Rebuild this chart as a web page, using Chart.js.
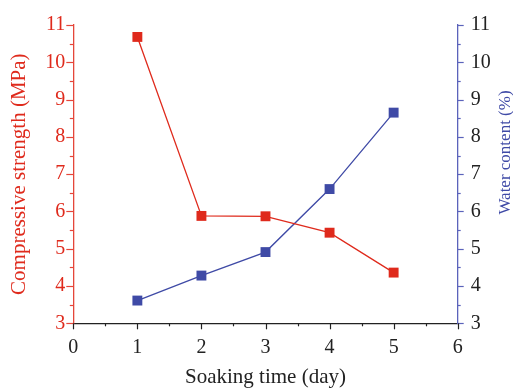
<!DOCTYPE html>
<html>
<head>
<meta charset="utf-8">
<script src="https://cdn.jsdelivr.net/npm/chart.js@4"></script>
<style>
  html, body { margin: 0; padding: 0; background: #ffffff; }
  #wrap { width: 513px; height: 392px; position: relative; }
</style>
</head>
<body>
<div id="wrap"><canvas id="c" width="513" height="392"></canvas></div>
<script>
// ---- data ----
const days = [1, 2, 3, 4, 5];
const strength = [10.68, 5.88, 5.87, 5.43, 4.36];   // Compressive strength (MPa)
const water = [3.61, 4.28, 4.91, 6.60, 8.65];       // Water content (%)
const xTicks = [0, 1, 2, 3, 4, 5, 6];
const yTicks = [3, 4, 5, 6, 7, 8, 9, 10, 11];

const RED = '#df2a1c';
const BLUE = '#3f4aa6';
const RED_AXIS = '#e5463a';
const BLUE_AXIS = '#5b63bb';
const FONT = "'Liberation Serif', 'DejaVu Serif', serif";

// draw major / minor tick marks on all axes
const tickPlugin = {
  id: 'ticks',
  afterDraw(chart) {
    const ctx = chart.ctx;
    const {left, right, bottom} = chart.chartArea;
    const sx = chart.scales.x, sy = chart.scales.y, sy1 = chart.scales.y1;
    ctx.save();
    ctx.lineWidth = 1.2;
    // left axis
    ctx.strokeStyle = RED_AXIS;
    for (let v = yTicks[0]; v <= yTicks[yTicks.length - 1] + 1e-9; v += 0.5) {
      const p = Math.round(sy.getPixelForValue(v)) + 0.5;
      const len = Number.isInteger(v) ? 7 : 3.5;
      ctx.beginPath(); ctx.moveTo(left, p); ctx.lineTo(left - len, p); ctx.stroke();
    }
    // right axis
    ctx.strokeStyle = BLUE_AXIS;
    for (let v = yTicks[0]; v <= yTicks[yTicks.length - 1] + 1e-9; v += 0.5) {
      const p = Math.round(sy1.getPixelForValue(v)) + 0.5;
      const len = Number.isInteger(v) ? 6 : 3;
      ctx.beginPath(); ctx.moveTo(right, p); ctx.lineTo(right + len, p); ctx.stroke();
    }
    // bottom axis
    ctx.strokeStyle = '#222222';
    for (let v = xTicks[0]; v <= xTicks[xTicks.length - 1] + 1e-9; v += 0.5) {
      const p = Math.round(sx.getPixelForValue(v)) + 0.5;
      const len = Number.isInteger(v) ? 6 : 3;
      ctx.beginPath(); ctx.moveTo(p, bottom); ctx.lineTo(p, bottom + len); ctx.stroke();
    }
    // right axis title (reads bottom-to-top)
    ctx.fillStyle = BLUE;
    ctx.font = "17px " + FONT;
    ctx.textAlign = 'center';
    ctx.textBaseline = 'middle';
    ctx.translate(505.5, 152.5);
    ctx.rotate(-Math.PI / 2);
    ctx.fillText('Water content (%)', 0, 0);
    ctx.restore();
  }
};

const toPts = (xs, ys) => xs.map((x, i) => ({x: x, y: ys[i]}));

new Chart(document.getElementById('c'), {
  type: 'scatter',
  data: {
    datasets: [
      {
        label: 'Compressive strength (MPa)',
        data: toPts(days, strength),
        yAxisID: 'y',
        showLine: true,
        borderColor: RED,
        backgroundColor: RED,
        borderWidth: 1.3,
        pointStyle: 'rect',
        pointRadius: 7,
        pointHoverRadius: 7,
        pointBorderWidth: 0,
        clip: false
      },
      {
        label: 'Water content (%)',
        data: toPts(days, water),
        yAxisID: 'y1',
        showLine: true,
        borderColor: BLUE,
        backgroundColor: BLUE,
        borderWidth: 1.3,
        pointStyle: 'rect',
        pointRadius: 7,
        pointHoverRadius: 7,
        pointBorderWidth: 0,
        clip: false
      }
    ]
  },
  options: {
    responsive: false,
    animation: false,
    devicePixelRatio: 1,
    layout: { padding: { top: 16.7, left: 0, right: 0, bottom: 0 } },
    plugins: { legend: { display: false }, tooltip: { enabled: false } },
    scales: {
      x: {
        type: 'linear',
        position: 'bottom',
        min: xTicks[0],
        max: xTicks[xTicks.length - 1],
        afterBuildTicks: s => { s.ticks = xTicks.map(v => ({value: v})); },
        afterFit: s => { s.height = 392 - 323.3; },
        grid: { display: false, drawTicks: false },
        border: { display: true, color: '#222222', width: 1.3 },
        ticks: { color: '#222222', font: { family: FONT, size: 20 }, padding: 12, maxRotation: 0 },
        title: { display: true, text: 'Soaking time (day)', color: '#222222',
                 font: { family: FONT, size: 21 }, padding: { top: 0, bottom: 2 } }
      },
      y: {
        type: 'linear',
        position: 'left',
        min: yTicks[0],
        max: yTicks[yTicks.length - 1],
        afterBuildTicks: s => { s.ticks = yTicks.map(v => ({value: v})); },
        afterFit: s => { s.width = 73.3; },
        grid: { display: false, drawTicks: false },
        border: { display: true, color: RED_AXIS, width: 1.3 },
        ticks: { color: RED, font: { family: FONT, size: 20 }, padding: 8 },
        title: { display: true, text: 'Compressive strength (MPa)', color: RED,
                 font: { family: FONT, size: 21 }, padding: { top: 7, bottom: 0 } }
      },
      y1: {
        type: 'linear',
        position: 'right',
        min: yTicks[0],
        max: yTicks[yTicks.length - 1],
        afterBuildTicks: s => { s.ticks = yTicks.map(v => ({value: v})); },
        afterFit: s => { s.width = 513 - 457.7; },
        grid: { display: false, drawTicks: false },
        border: { display: true, color: BLUE_AXIS, width: 1.3 },
        ticks: { color: '#222222', font: { family: FONT, size: 20 }, padding: 13 }
      }
    }
  },
  plugins: [tickPlugin]
});
</script>
</body>
</html>
